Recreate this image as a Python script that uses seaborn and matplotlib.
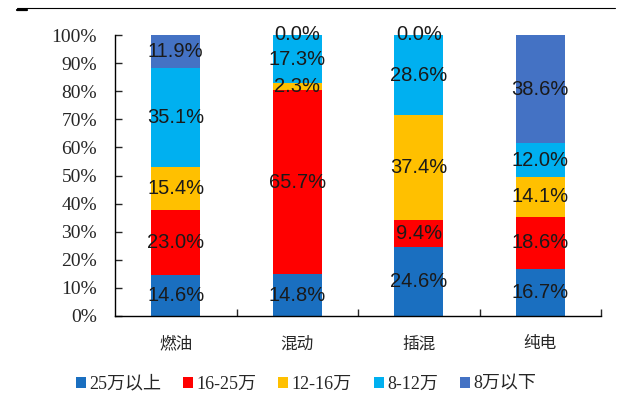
import numpy as np
import pandas as pd
import seaborn as sns
import matplotlib.pyplot as plt
from matplotlib.patches import Patch

categories = ["燃油", "混动", "插混", "纯电"]
segments = ["25万以上", "16-25万", "12-16万", "8-12万", "8万以下"]
colors = ["#1A6FC0", "#FF0000", "#FFC000", "#00B0F0", "#4472C4"]
v_25up = [14.6, 14.8, 24.6, 16.7]
v_16_25 = [23.0, 65.7, 9.4, 18.6]
v_12_16 = [15.4, 2.3, 37.4, 14.1]
v_8_12 = [35.1, 17.3, 28.6, 12.0]
v_8down = [11.9, 0.0, 0.0, 38.6]

values = np.array([v_25up, v_16_25, v_12_16, v_8_12, v_8down])
cum = values.cumsum(axis=0)

sns.set_style("white")
plt.rcParams['font.family'] = ['Noto Sans CJK SC', 'DejaVu Sans']

fig = plt.figure(figsize=(6.26, 3.98), dpi=100)
ax = fig.add_axes([115 / 626, 1 - 316 / 398, 486 / 626, 281 / 398])

# draw cumulative totals, tallest first, so each layer shows its own segment
for i in range(len(segments) - 1, -1, -1):
    df = pd.DataFrame({"cat": categories, "top": cum[i]})
    sns.barplot(data=df, x="cat", y="top", color=colors[i], width=0.4,
                saturation=1, linewidth=0, ax=ax, zorder=2)

for j in range(len(categories)):
    for i in range(len(segments)):
        v = values[i, j]
        mid = cum[i, j] - v / 2
        if v == 0:
            mid = 100.3
        ax.text(j, mid, f"{v:.1f}%", ha="center", va="center",
                fontsize=14.5, family="Liberation Sans", color="#1a1a1a",
                zorder=3, clip_on=False)

ax.set_xlim(-0.5, 3.5)
ax.set_ylim(0, 100)
ax.set_yticks(np.arange(0, 101, 10))
ax.set_yticklabels([f"{t}%" for t in range(0, 101, 10)],
                   family="Liberation Serif", fontsize=14)
ax.set_xticks(range(4))
ax.set_xticklabels(categories, fontsize=12)
ax.set_xticks([0.5, 1.5, 2.5, 3.5], minor=True)
ax.tick_params(axis="x", which="major", length=0, pad=14)
ax.tick_params(axis="x", which="minor", direction="in", length=5, width=1,
               bottom=True)
ax.tick_params(axis="y", direction="in", length=5, width=1, left=True, pad=13)
ax.set_xlabel("")
ax.set_ylabel("")
for s in ["top", "right"]:
    ax.spines[s].set_visible(False)
for s in ["left", "bottom"]:
    ax.spines[s].set_color("black")
    ax.spines[s].set_linewidth(1)

handles = [Patch(facecolor=c, edgecolor="none") for c in colors]
leg = fig.legend(handles, segments, loc="center", bbox_to_anchor=(306 / 626, 1 - 384 / 398),
                 ncol=5, frameon=False, handlelength=0.55,
                 handleheight=0.55, handletextpad=0.2, columnspacing=1.2,
                 prop={"family": ["Liberation Serif", "Noto Sans CJK SC"], "size": 13})

# cut-off title rule at the top
fig.add_artist(plt.Line2D([17 / 626, 615 / 626], [1 - 8 / 398] * 2,
                          color="black", lw=0.8, transform=fig.transFigure))
fig.add_artist(plt.Line2D([17 / 626, 27 / 626], [1 - 10 / 398] * 2,
                          color="black", lw=1.6, transform=fig.transFigure))

fig.savefig("out.png", dpi=100)
